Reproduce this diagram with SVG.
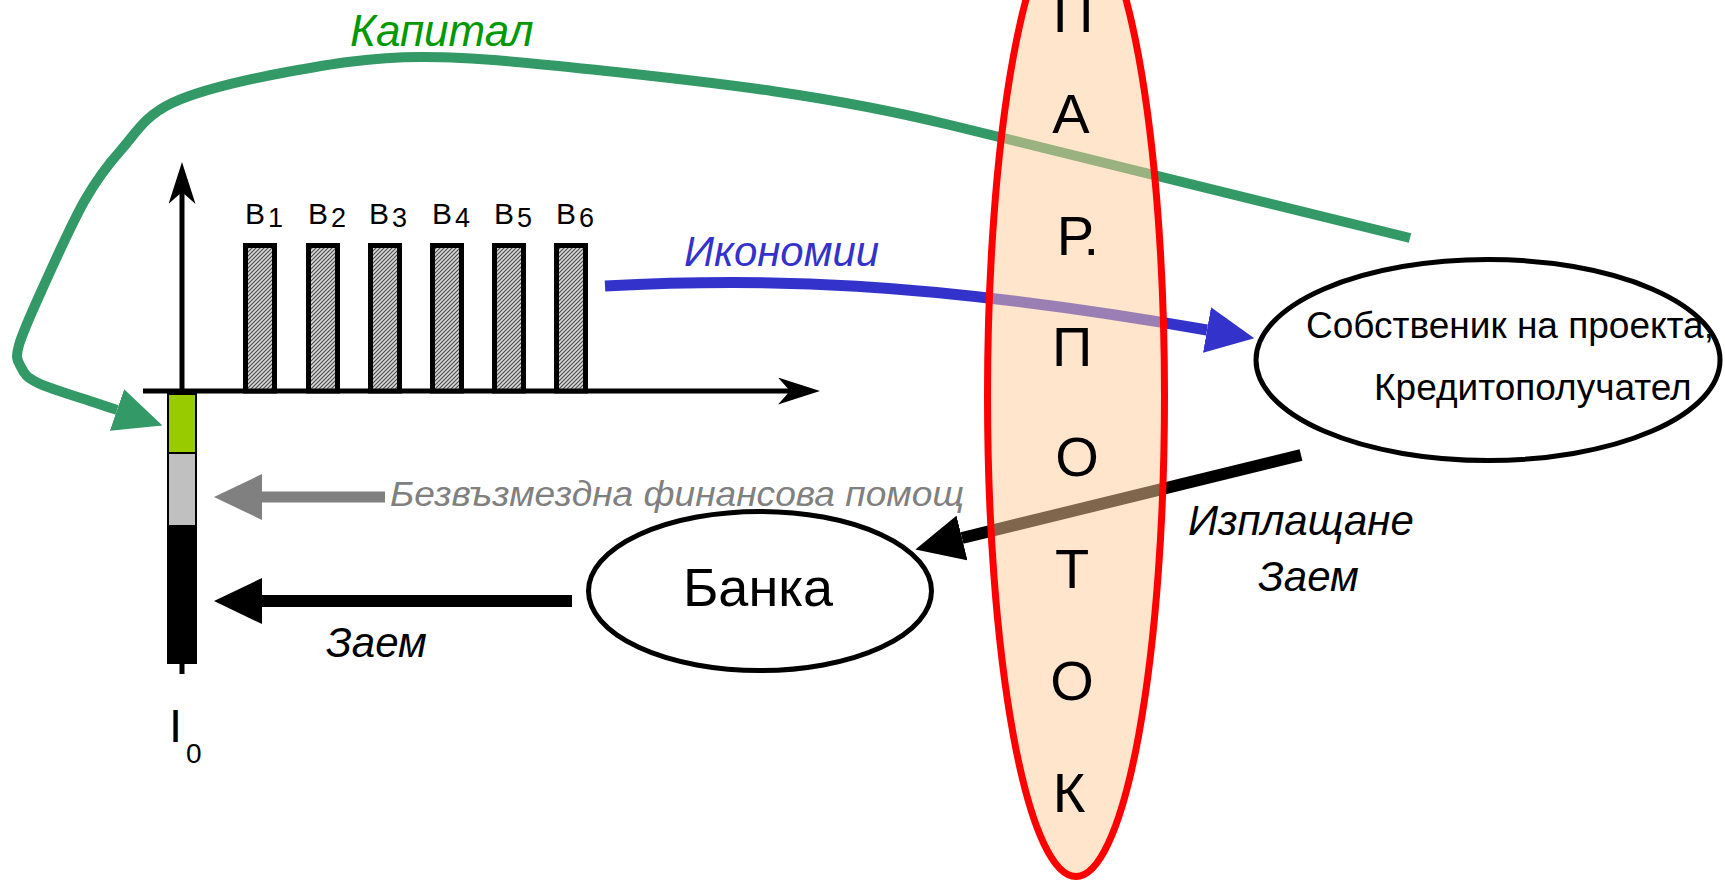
<svg xmlns="http://www.w3.org/2000/svg" width="1725" height="885" viewBox="0 0 1725 885">
<style>
.sans{font-family:"Liberation Sans",Arial,sans-serif}
.it{font-family:"Liberation Sans",Arial,sans-serif;font-style:italic}
.bar{fill:url(#hatch);stroke:#000;stroke-width:5}
.node{fill:#fff;stroke:#000;stroke-width:5}
.axis{stroke:#000;stroke-width:5;fill:none}
.lett{font-family:"Liberation Sans",Arial,sans-serif;font-size:56px;fill:#000;text-anchor:middle}
</style>
<defs>
<pattern id="hatch" patternUnits="userSpaceOnUse" width="4" height="4">
<rect width="4" height="4" fill="#d6d6d6"/>
<path d="M-1,1 L1,-1 M0,4 L4,0 M3,5 L5,3" stroke="#4a4a4a" stroke-width="1.1"/>
</pattern>
<marker id="axisHead" markerUnits="userSpaceOnUse" viewBox="0 0 42 27" refX="12" refY="13.5" markerWidth="42" markerHeight="27" orient="auto">
<path d="M0,0 L42,13.5 L0,27 L12,13.5 z" fill="#000"/>
</marker>
<marker id="headBlue" markerUnits="userSpaceOnUse" viewBox="0 0 48 46" refX="0" refY="23" markerWidth="48" markerHeight="46" orient="auto">
<path d="M0,0 L48,23 L0,46 z" fill="#3333cc"/>
</marker>
<marker id="headBlack" markerUnits="userSpaceOnUse" viewBox="0 0 48 46" refX="0" refY="23" markerWidth="48" markerHeight="46" orient="auto">
<path d="M0,0 L48,23 L0,46 z" fill="#000"/>
</marker>
<marker id="headGray" markerUnits="userSpaceOnUse" viewBox="0 0 48 46" refX="0" refY="23" markerWidth="48" markerHeight="46" orient="auto">
<path d="M0,0 L48,23 L0,46 z" fill="#808080"/>
</marker>
<marker id="headGreen" markerUnits="userSpaceOnUse" viewBox="0 0 48 44" refX="0" refY="22" markerWidth="48" markerHeight="44" orient="auto">
<path d="M0,0 L48,22 L0,44 z" fill="#339966"/>
</marker>
</defs>

<g id="chart">
<line class="axis" x1="143" y1="391" x2="790" y2="391" marker-end="url(#axisHead)"/>
<line class="axis" x1="182" y1="393" x2="182" y2="192" marker-end="url(#axisHead)"/>
<rect class="bar" x="245.5" y="245.5" width="29" height="145.5"/>
<rect class="bar" x="308.5" y="245.5" width="29" height="145.5"/>
<rect class="bar" x="370.5" y="245.5" width="29" height="145.5"/>
<rect class="bar" x="432.5" y="245.5" width="29" height="145.5"/>
<rect class="bar" x="494.5" y="245.5" width="29" height="145.5"/>
<rect class="bar" x="556.5" y="245.5" width="29" height="145.5"/>
<g class="sans" font-size="30" fill="#000">
<text x="245" y="224">B<tspan dx="3" dy="3" font-size="27">1</tspan></text>
<text x="308" y="224">B<tspan dx="3" dy="3" font-size="27">2</tspan></text>
<text x="369" y="224">B<tspan dx="3" dy="3" font-size="27">3</tspan></text>
<text x="432" y="224">B<tspan dx="3" dy="3" font-size="27">4</tspan></text>
<text x="494" y="224">B<tspan dx="3" dy="3" font-size="27">5</tspan></text>
<text x="556" y="224">B<tspan dx="3" dy="3" font-size="27">6</tspan></text>
</g>
</g>

<g id="investment">
<rect x="168" y="394" width="28" height="59" fill="#99cc00" stroke="#000" stroke-width="2"/>
<rect x="168" y="453" width="28" height="73" fill="#c0c0c0" stroke="#000" stroke-width="2"/>
<rect x="168" y="526" width="28" height="137" fill="#000" stroke="#000" stroke-width="2"/>
<line x1="182" y1="662" x2="182" y2="674" stroke="#000" stroke-width="5"/>
<text class="sans" x="169" y="742" font-size="47">I</text>
<text class="sans" x="186" y="763" font-size="28">0</text>
</g>

<g id="owner">
<ellipse class="node" cx="1488" cy="360" rx="232" ry="100.5"/>
<text class="sans" x="1306" y="338" font-size="37">Собственик на проекта,</text>
<text class="sans" x="1374" y="400" font-size="37">Кредитополучател</text>
</g>

<g id="bank">
<ellipse class="node" cx="760" cy="591" rx="171.5" ry="79.5"/>
<text class="sans" x="758" y="606" font-size="54" text-anchor="middle">Банка</text>
</g>

<g id="connectors" fill="none">
<path id="capital" d="M1410,238 L950,125 C830,95.5 717,82.7 597,70 C538.8,63.8 472.7,56.7 421,57 C369.3,57.3 328.5,64.3 287,72 C245.5,79.7 199.7,90 172,103 C144.3,116 135.5,133.8 121,150 C106.5,166.2 97.7,177.8 85,200 C72.3,222.2 56,258.8 45,283 C34,307.2 23,331 19,345 C15,359 17.8,360.7 21,367 C24.2,373.3 25.5,377 38,383 C50.5,389 82.8,398.5 96,403 C109.2,407.5 113.5,408.8 117,410" stroke="#339966" stroke-width="10" marker-end="url(#headGreen)"/>
<path id="savings" d="M605,286 C760,278 920,280 1207,330" stroke="#3333cc" stroke-width="11" marker-end="url(#headBlue)"/>
<path id="repay" d="M1301,455 L962,538" stroke="#000" stroke-width="12" marker-end="url(#headBlack)"/>
<path id="loan" d="M572,601 L262,601" stroke="#000" stroke-width="12" marker-end="url(#headBlack)"/>
<path id="grant" d="M385,497 L262,497" stroke="#808080" stroke-width="11" marker-end="url(#headGray)"/>
</g>

<g id="cashflow">
<ellipse cx="1076" cy="396" rx="88.5" ry="480.5" fill="#ffcc99" fill-opacity="0.5" stroke="#ff0000" stroke-width="7"/>
<text class="lett" x="1073" y="32">П</text>
<text class="lett" x="1071" y="133">А</text>
<text class="lett" x="1078" y="255">Р.</text>
<text class="lett" x="1072" y="366">П</text>
<text class="lett" x="1077" y="476">О</text>
<text class="lett" x="1072" y="588">Т</text>
<text class="lett" x="1072" y="700">О</text>
<text class="lett" x="1069" y="812">К</text>
</g>

<g id="labels">
<text class="it" x="350" y="46" font-size="44" fill="#009900">Капитал</text>
<text class="it" x="684" y="266" font-size="42" fill="#3333cc">Икономии</text>
<text class="it" x="390" y="506" font-size="35" fill="#808080" textLength="574" lengthAdjust="spacingAndGlyphs">Безвъзмездна финансова помощ</text>
<text class="it" x="326" y="657" font-size="42" fill="#000">Заем</text>
<text class="it" x="1188" y="535" font-size="42" fill="#000">Изплащане</text>
<text class="it" x="1258" y="591" font-size="42" fill="#000">Заем</text>
</g>
</svg>
